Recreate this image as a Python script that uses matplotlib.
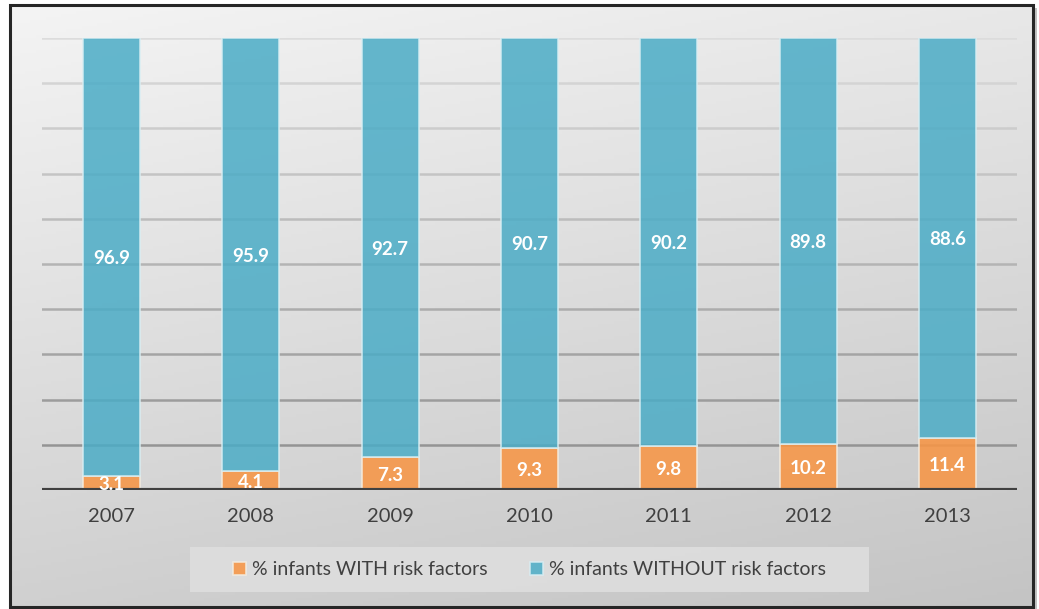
import numpy as np
import matplotlib
matplotlib.use("Agg")
import matplotlib.pyplot as plt
from matplotlib.patches import Rectangle
from matplotlib.colors import LinearSegmentedColormap

years = ["2007", "2008", "2009", "2010", "2011", "2012", "2013"]
with_risk = [3.1, 4.1, 7.3, 9.3, 9.8, 10.2, 11.4]
without_risk = [96.9, 95.9, 92.7, 90.7, 90.2, 89.8, 88.6]
series_names = ["% infants WITH risk factors", "% infants WITHOUT risk factors"]

W, H = 1039, 609
fig = plt.figure(figsize=(W / 100, H / 100), dpi=100)
fig.patch.set_facecolor("white")
plt.rcParams["font.family"] = ["Lato", "DejaVu Sans"]

# frame with gradient background
fx0, fy0, fx1, fy1 = 10, 5, 1033, 607
bg = fig.add_axes([fx0 / W, 1 - fy1 / H, (fx1 - fx0) / W, (fy1 - fy0) / H], zorder=0)
yy, xx = np.mgrid[0:1:200j, 0:1:200j]
grad = 0.75 * yy + 0.25 * xx
cmap = LinearSegmentedColormap.from_list("g", ["#f4f4f4", "#c4c4c4"])
bg.imshow(grad, cmap=cmap, aspect="auto", extent=[0, 1, 0, 1], origin="upper")
bg.set_xlim(0, 1); bg.set_ylim(0, 1)
bg.axis("off")
# shadow
fig.patches.append(Rectangle(((fx0 + 4) / W, 1 - (fy1 + 3) / H), (fx1 - fx0) / W, (fy1 - fy0) / H,
                             transform=fig.transFigure, facecolor="#9a9a9a", edgecolor="none",
                             alpha=0.6, zorder=-1))
fig.patches.append(Rectangle((fx0 / W, 1 - fy1 / H), (fx1 - fx0) / W, (fy1 - fy0) / H,
                             transform=fig.transFigure, facecolor="none", edgecolor="#262626",
                             linewidth=2.2, zorder=10))

ax = fig.add_axes([42 / W, 1 - 490 / H, (1017 - 42) / W, (490 - 38) / H], zorder=2)
ax.patch.set_alpha(0)
x = np.arange(len(years))
ax.set_xlim(-0.5, len(years) - 0.5)
ax.set_ylim(0, 100)

# gradient gridlines
for v in range(10, 101, 10):
    t = v / 100
    c = np.array([0x8c, 0x8c, 0x8c]) * (1 - t) + np.array([0xdc, 0xdc, 0xdc]) * t
    ax.axhline(v, color=c / 255, linewidth=1.8, zorder=1)

bw = 0.41
orange = "#f79646"
blue = "#4bacc6"
b1 = ax.bar(x, with_risk, width=bw, color=orange, alpha=0.88, edgecolor="#f4ecdf",
            linewidth=1.2, zorder=2, label=series_names[0])
b2 = ax.bar(x, without_risk, width=bw, bottom=with_risk, color=blue, alpha=0.85,
            edgecolor="#d8eef3", linewidth=1.2, zorder=2, label=series_names[1])
ax.axhline(0, color="#404040", linewidth=3, zorder=3)

for i in range(len(years)):
    ax.text(x[i], with_risk[i] / 2, f"{with_risk[i]:.1f}", ha="center", va="center_baseline",
            color="white", fontsize=13.5, fontweight="bold", zorder=5)
    ax.text(x[i], with_risk[i] + without_risk[i] / 2, f"{without_risk[i]:.1f}", ha="center",
            va="center_baseline", color="white", fontsize=13.5, fontweight="bold", zorder=5)

ax.set_xticks(x)
ax.set_xticklabels(years, fontsize=14.5, color="#404040")
ax.tick_params(axis="x", length=0, pad=13)
ax.set_yticks([])
for s in ax.spines.values():
    s.set_visible(False)

# legend box
lx0, ly0, lx1, ly1 = 190, 547, 869, 592
fig.patches.append(Rectangle((lx0 / W, 1 - ly1 / H), (lx1 - lx0) / W, (ly1 - ly0) / H,
                             transform=fig.transFigure, facecolor="#dedede", edgecolor="none",
                             alpha=0.9, zorder=3))
leg = fig.legend(handles=[b1, b2], loc="center", bbox_to_anchor=((lx0 + lx1) / 2 / W, 1 - (ly0 + ly1) / 2 / H),
                 ncol=2, frameon=False, fontsize=14, handlelength=0.65, handleheight=0.65,
                 handletextpad=0.3, columnspacing=2.2, labelcolor="#404040")
leg.set_zorder(11)

fig.savefig("out.png", dpi=100)
